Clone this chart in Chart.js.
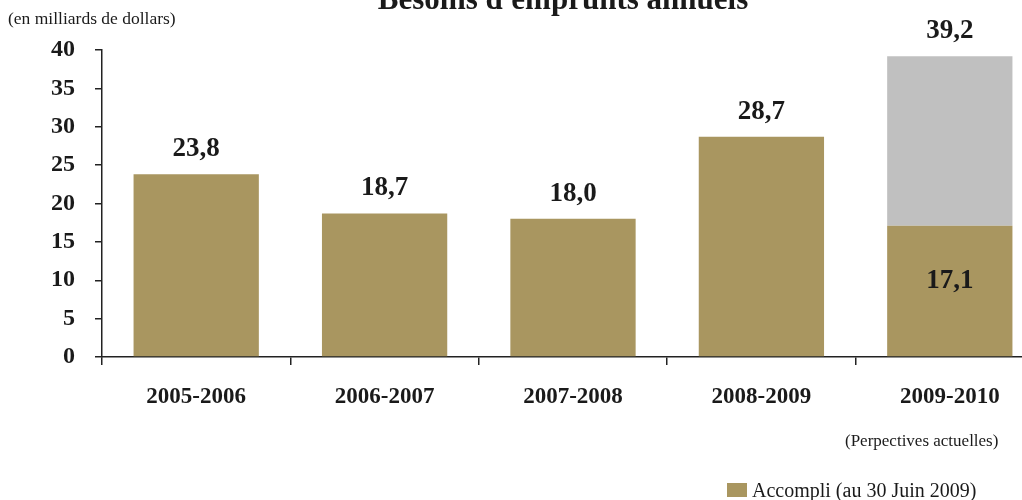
<!DOCTYPE html>
<html>
<head>
<meta charset="utf-8">
<script src="https://cdn.jsdelivr.net/npm/chart.js@4"></script>
<style>
    html, body { margin: 0; padding: 0; background: #fff; overflow: hidden; }
    #wrap { width: 1044px; height: 500px; position: relative; }
</style>
</head>
<body>
<div id="wrap"><canvas id="borrowChart"></canvas></div>
<script>
// Data
const years = ['2005-2006', '2006-2007', '2007-2008', '2008-2009', '2009-2010'];
const accompli = [23.8, 18.7, 18.0, 28.7, 17.1];
const totals = [23.8, 18.7, 18.0, 28.7, 39.2];
const yTicks = [0, 5, 10, 15, 20, 25, 30, 35, 40];

const colors = {
    gold: '#A99660',
    grey: '#C0C0C0',
    ink: '#1a1a1a'
};
const serif = "'Liberation Serif', 'DejaVu Serif', serif";

// remaining part of each year's need (only last year is still open)
const reste = totals.map((t, i) => +(t - accompli[i]).toFixed(1));

const fmt = v => v.toFixed(1).replace('.', ',');

// value labels + texts around the chart
const labelsPlugin = {
    id: 'labelsPlugin',
    afterDatasetsDraw(chart) {
        const ctx = chart.ctx;
        const y = chart.scales.y;
        const metaA = chart.getDatasetMeta(0);
        ctx.save();
        ctx.fillStyle = colors.ink;
        ctx.textAlign = 'center';
        ctx.textBaseline = 'middle';
        ctx.font = 'bold 27px ' + serif;
        totals.forEach((t, i) => {
            const x = metaA.data[i].x;
            ctx.fillText(fmt(t), x, y.getPixelForValue(t) - 25);
            if (reste[i] > 0) {
                ctx.fillText(fmt(accompli[i]), x, y.getPixelForValue(accompli[i]) + 55);
            }
        });

        // title (partly off the top)
        ctx.font = 'bold 31px ' + serif;
        ctx.textBaseline = 'alphabetic';
        ctx.fillText("Besoins d'emprunts annuels", 563, 9);

        ctx.textAlign = 'left';
        ctx.font = '17.5px ' + serif;
        ctx.fillText('(en milliards de dollars)', 8, 24);

        ctx.font = '17px ' + serif;
        ctx.fillText('(Perpectives actuelles)', 845, 446);

        // legend
        ctx.fillStyle = colors.gold;
        ctx.fillRect(727, 483, 20, 14);
        ctx.fillStyle = colors.ink;
        ctx.font = '20px ' + serif;
        ctx.fillText('Accompli (au 30 Juin 2009)', 752, 497);
        ctx.restore();
    }
};

new Chart(document.getElementById('borrowChart'), {
    type: 'bar',
    data: {
        labels: years,
        datasets: [
            {
                label: 'Accompli (au 30 Juin 2009)',
                data: accompli,
                backgroundColor: colors.gold,
                barPercentage: 0.665,
                categoryPercentage: 1
            },
            {
                label: 'Perspectives actuelles',
                data: reste,
                backgroundColor: colors.grey,
                barPercentage: 0.665,
                categoryPercentage: 1
            }
        ]
    },
    options: {
        responsive: true,
        maintainAspectRatio: false,
        animation: false,
        layout: { padding: { top: 50, left: 0, right: 0, bottom: 0 } },
        plugins: {
            legend: { display: false },
            tooltip: { enabled: false }
        },
        scales: {
            x: {
                stacked: true,
                afterFit: s => { s.height = 143; },
                border: { display: true, color: '#222', width: 1.5 },
                grid: {
                    display: true,
                    offset: true,
                    drawOnChartArea: false,
                    tickLength: 8,
                    color: '#222',
                    lineWidth: 1.5
                },
                ticks: {
                    color: colors.ink,
                    padding: 18,
                    font: { family: serif, size: 23, weight: 'bold' }
                }
            },
            y: {
                stacked: true,
                min: 0,
                max: 40,
                afterFit: s => { s.width = 102; },
                afterBuildTicks: s => { s.ticks = yTicks.map(v => ({ value: v })); },
                border: { display: true, color: '#222', width: 1.5 },
                grid: {
                    drawOnChartArea: false,
                    tickLength: 7,
                    color: '#222',
                    lineWidth: 1.5
                },
                ticks: {
                    color: colors.ink,
                    padding: 20,
                    font: { family: serif, size: 24, weight: 'bold' }
                }
            }
        }
    },
    plugins: [labelsPlugin]
});
</script>
</body>
</html>
